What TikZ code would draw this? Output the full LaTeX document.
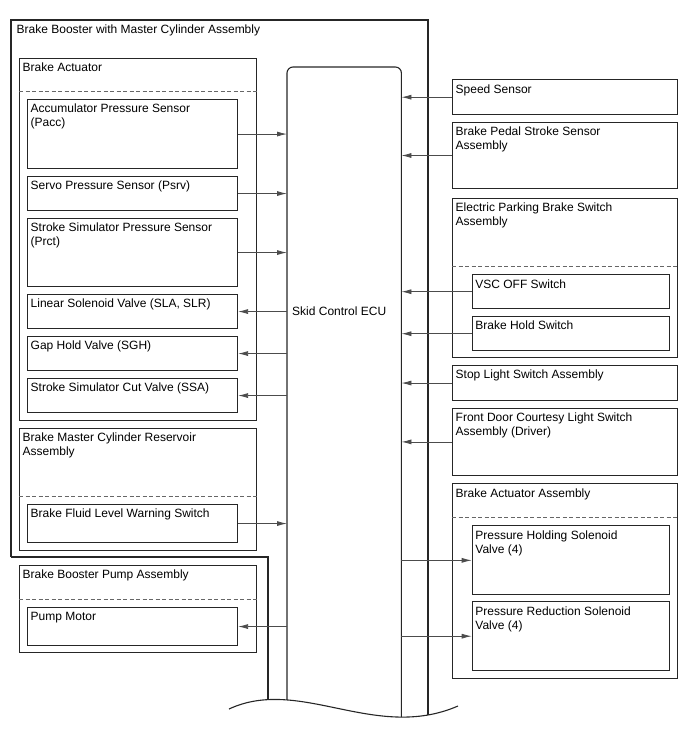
\documentclass[tikz,border=0pt]{standalone}
\usepackage{fontspec}
\setmainfont{Liberation Sans}
\usetikzlibrary{arrows.meta}

\tikzset{
  part/.style 2 args={draw=black!85, line width=1.1pt, anchor=north west, inner sep=0pt, minimum width=#1pt, minimum height=#2pt},
  title/.style={anchor=north west, align=left, inner xsep=3.5pt, inner ysep=5pt, font=\fontsize{12}{14}\selectfont},
  wall/.style={draw=black!85, line width=1.1pt},
  sig/.style={->, draw=black!70, line width=0.8pt},
  sep/.style={draw=black!60, line width=0.8pt, dash pattern=on 4pt off 2.5pt},
}

\begin{document}
\begin{tikzpicture}[x=1pt,y=-1pt,>={Latex[length=10pt,width=5pt]}]
 \useasboundingbox (0,0) rectangle (688,755);
 \node[anchor=north west, inner sep=0pt, minimum width=114pt, minimum height=670pt] (ecu) at (287,67) {};
 \begin{scope}
  \clip (0,0) -- (0,709) -- (229,709) .. controls (300,676) and (375,742) .. (458,706) -- (688,706) -- (688,0) -- cycle;
  \draw[wall] (11,557) -- (11,20) -- (428,20) -- (428,740);
  \draw[wall] (11,557) -- (268,557) -- (268,740);
  \draw[wall, rounded corners=6pt] (ecu.south west) -- (ecu.north west) -- (ecu.north east) -- (ecu.south east);
 \end{scope}
 \draw[wall] (229,709) .. controls (300,676) and (375,742) .. (458,706);
 \node[title, inner xsep=5.5pt] (booster) at (11,20) {Brake Booster with Master Cylinder Assembly};
 \node[anchor=west, inner sep=0pt, font=\fontsize{12}{14}\selectfont] (ecu-t) at (292,311) {Skid Control ECU};

 \node[part={237}{362}, label={[title]north west:{Brake Actuator}}] (act) at (19,57.5) {};
 \draw[sep] ([yshift=-34pt]act.north west) -- ([yshift=-34pt]act.north east);
 \node[part={210}{69}, label={[title]north west:{Accumulator Pressure Sensor\\(Pacc)}}] (pacc) at (27,99) {};
 \node[part={210}{34}, label={[title]north west:{Servo Pressure Sensor (Psrv)}}] (psrv) at (27,176) {};
 \node[part={210}{68}, label={[title]north west:{Stroke Simulator Pressure Sensor\\(Prct)}}] (prct) at (27,218) {};
 \node[part={210}{34}, label={[title]north west:{Linear Solenoid Valve (SLA, SLR)}}] (sla) at (27,294) {};
 \node[part={210}{34}, label={[title]north west:{Gap Hold Valve (SGH)}}] (sgh) at (27,336) {};
 \node[part={210}{34}, label={[title]north west:{Stroke Simulator Cut Valve (SSA)}}] (ssa) at (27,378) {};

 \node[part={237}{121.5}, label={[title]north west:{Brake Master Cylinder Reservoir\\Assembly}}] (res) at (19,428) {};
 \draw[sep] ([yshift=-68.3pt]res.north west) -- ([yshift=-68.3pt]res.north east);
 \node[part={210}{38}, label={[title]north west:{Brake Fluid Level Warning Switch}}] (fluid) at (27,504) {};

 \node[part={237}{87}, label={[title]north west:{Brake Booster Pump Assembly}}] (pump) at (19,565) {};
 \draw[sep] ([yshift=-34.3pt]pump.north west) -- ([yshift=-34.3pt]pump.north east);
 \node[part={210}{38}, label={[title]north west:{Pump Motor}}] (motor) at (27,607) {};

 \node[part={225}{34.7}, label={[title]north west:{Speed Sensor}}] (speed) at (452,79.3) {};
 \node[part={225}{66.5}, label={[title]north west:{Brake Pedal Stroke Sensor\\Assembly}}] (pedal) at (452,121.7) {};
 \node[part={225}{159}, label={[title]north west:{Electric Parking Brake Switch\\Assembly}}] (epb) at (452,197.7) {};
 \draw[sep] ([yshift=-68.6pt]epb.north west) -- ([yshift=-68.6pt]epb.north east);
 \node[part={197.6}{33.7}, label={[title]north west:{VSC OFF Switch}}] (vsc) at (471.7,274.3) {};
 \node[part={197.6}{34.3}, label={[title]north west:{Brake Hold Switch}}] (hold) at (471.7,316) {};
 \node[part={225}{35}, label={[title]north west:{Stop Light Switch Assembly}}] (stop) at (452,365) {};
 \node[part={225}{67.3}, label={[title]north west:{Front Door Courtesy Light Switch\\Assembly (Driver)}}] (door) at (452,407.7) {};
 \node[part={225}{194.7}, label={[title]north west:{Brake Actuator Assembly}}] (aa) at (452,483.3) {};
 \draw[sep] ([yshift=-34.4pt]aa.north west) -- ([yshift=-34.4pt]aa.north east);
 \node[part={197.6}{69}, label={[title]north west:{Pressure Holding Solenoid\\Valve (4)}}] (phsv) at (471.7,525.3) {};
 \node[part={197.6}{68.7}, label={[title]north west:{Pressure Reduction Solenoid\\Valve (4)}}] (prsv) at (471.7,601.3) {};

 \draw[sig] (pacc.east) -- (pacc.east -| ecu.west);
 \draw[sig] (psrv.east) -- (psrv.east -| ecu.west);
 \draw[sig] (prct.east) -- (prct.east -| ecu.west);
 \draw[sig] (sla.east -| ecu.west) -- (sla.east);
 \draw[sig] (sgh.east -| ecu.west) -- (sgh.east);
 \draw[sig] (ssa.east -| ecu.west) -- (ssa.east);
 \draw[sig] (fluid.east) -- (fluid.east -| ecu.west);
 \draw[sig] (motor.east -| ecu.west) -- (motor.east);
 \draw[sig] (speed.west) -- (speed.west -| ecu.east);
 \draw[sig] (pedal.west) -- (pedal.west -| ecu.east);
 \draw[sig] (vsc.west) -- (vsc.west -| ecu.east);
 \draw[sig] (hold.west) -- (hold.west -| ecu.east);
 \draw[sig] (stop.west) -- (stop.west -| ecu.east);
 \draw[sig] (door.west) -- (door.west -| ecu.east);
 \draw[sig] (phsv.west -| ecu.east) -- (phsv.west);
 \draw[sig] (prsv.west -| ecu.east) -- (prsv.west);
\end{tikzpicture}
\end{document}
